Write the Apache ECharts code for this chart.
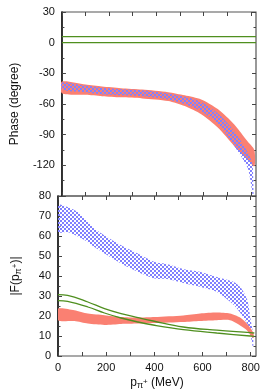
<!DOCTYPE html>
<html>
<head>
<meta charset="utf-8">
<script src="https://cdn.jsdelivr.net/npm/echarts@6/dist/echarts.min.js"></script>
<style>
html,body{margin:0;padding:0;background:#fff;}
#c{width:274px;height:392px;}
</style>
</head>
<body>
<div id="c"></div>
<script>
// ---------- data ----------
// Top panel: phase (degree)
const phaseRedX  = [0, 100, 170, 250, 340, 450, 520, 590, 660, 730, 786, 815];
const phaseRedHi = [-38, -41, -43, -44.5, -45.8, -48.4, -51.5, -55.6, -65, -80, -96.5, -105];
const phaseRedLo = [-49.5, -51, -52.3, -53.5, -54.5, -57, -62, -70, -83, -101, -114, -121];

const phaseBlueX  = [0, 100, 170, 250, 340, 450, 520, 590, 660, 730, 786, 800, 808, 812];
const phaseBlueHi = [-39, -42, -44, -45.5, -46.5, -49.7, -53, -58, -69, -86.7, -107, -114, -120, -150];
const phaseBlueLo = [-46, -48.5, -50.7, -51.5, -52.5, -55.6, -60, -67, -79, -101, -122, -137, -150, -153];

const phaseGreenX = [0, 822];
const phaseGreenA = [6, 6];
const phaseGreenB = [0, 0];

// Bottom panel: |F|
const magRedX  = [0, 68, 124, 193, 262, 332, 401, 520, 590, 659, 714, 756, 784, 805, 812];
const magRedHi = [23.7, 22.9, 21.2, 20.4, 19.5, 19.2, 19.5, 20.3, 21.2, 21.7, 21.2, 19.2, 16.2, 12.9, 11];
const magRedLo = [17.9, 17.5, 16.2, 15.5, 16.0, 16.2, 16.5, 17, 17.5, 17.9, 17.9, 15.3, 12.9, 9.5, 9];

const magBlueX  = [0, 40, 82, 110, 151, 193, 262, 332, 401, 452, 520, 592, 660, 730, 760, 786, 800, 810];
const magBlueHi = [75.5, 74.5, 72, 68.7, 63.7, 60.3, 55.4, 51.2, 47, 46, 43.5, 42, 39.5, 37, 34, 28, 18, 11];
const magBlueLo = [62, 62, 59.8, 58, 54.5, 51.2, 46.2, 42, 38.7, 38.5, 36.5, 34.5, 32, 25.5, 21, 16, 10, 4];

const magGreenX = [0, 40, 124, 193, 262, 332, 395, 520, 659, 798, 815];
const magGreenA = [30.7, 30.3, 27, 23.7, 21.2, 19.2, 17.5, 14.5, 12.9, 11.7, 11.5];
const magGreenB = [27.7, 27.3, 24.5, 21.5, 19, 17, 15.5, 13.2, 11.5, 10, 9.8];

// ticks
const xLabelTicks = [0, 200, 400, 600, 800];
const xTicks = [0, 100, 200, 300, 400, 500, 600, 700, 800];

// ---------- styling ----------
const FONT = 'Liberation Sans, Arial, sans-serif';
const RED = '#fa8072';
const GREEN = '#4f8f1f';
const pc = document.createElement('canvas');
pc.width = 4; pc.height = 4;
const pctx = pc.getContext('2d');
pctx.fillStyle = '#8080ff';
pctx.fillRect(0, 0, 2, 2);
pctx.fillRect(2, 2, 2, 2);
const BLUE_PATTERN = { image: pc, repeat: 'repeat' };

function band(xs, hi, lo, fill, gi) {
  return {
    type: 'custom', xAxisIndex: gi * 2, yAxisIndex: gi * 2, clip: true, silent: true,
    data: xs.map((x, i) => [x, lo[i], hi[i]]),
    encode: { x: 0, y: [1, 2] },
    renderItem: function (params, api) {
      if (params.dataIndex !== 0) return null;
      const top = xs.map((x, i) => api.coord([x, hi[i]]));
      const bot = xs.map((x, i) => api.coord([x, lo[i]])).reverse();
      return { type: 'polygon', shape: { points: top.concat(bot), smooth: 0.25 }, style: { fill: fill } };
    }
  };
}
function line(xs, ys, gi) {
  return {
    type: 'line', xAxisIndex: gi * 2, yAxisIndex: gi * 2, showSymbol: false, smooth: 0.4, silent: true,
    data: xs.map((x, i) => [x, ys[i]]),
    lineStyle: { color: GREEN, width: 1.3 }, z: 5
  };
}
const tickStyle = { show: true, inside: true, length: 4, lineStyle: { color: '#444', width: 1 } };
const minorStyle = { show: true, splitNumber: 2, length: 2.5, lineStyle: { color: '#444', width: 1 } };
const labelStyle = { color: '#111', fontSize: 11, fontFamily: FONT };
const nameRich = {
  sub: { fontSize: 9, fontFamily: FONT, color: '#111', lineHeight: 10, padding: [6, 0, 0, 0] },
  sup: { fontSize: 8, fontFamily: FONT, color: '#111', lineHeight: 10, padding: [0, 0, 2, 0] },
  n: { fontSize: 12, fontFamily: FONT, color: '#111', lineHeight: 14 }
};

function xAx(gi, pos, labels, name) {
  return {
    type: 'value', gridIndex: gi, position: pos, min: 0, max: 822,
    axisLine: { show: false, onZero: false },
    axisTick: Object.assign({}, tickStyle, { customValues: xTicks }),
    axisLabel: labels ? Object.assign({}, labelStyle, { margin: 6, customValues: xLabelTicks }) : { show: false },
    splitLine: { show: false },
    name: name || '', nameLocation: 'middle', nameGap: 20,
    nameTextStyle: { fontSize: 12, fontFamily: FONT, color: '#111', lineHeight: 14, rich: nameRich }
  };
}
function yAx(gi, pos, min, max, interval, labels, name, hideMin) {
  return {
    type: 'value', gridIndex: gi, position: pos, min: min, max: max, interval: interval,
    axisLine: pos === 'left' ? { show: true, onZero: false, lineStyle: { color: '#111', width: 1.5 } } : { show: false, onZero: false },
    axisTick: tickStyle, minorTick: minorStyle,
    axisLabel: labels ? Object.assign({}, labelStyle, { margin: 7, showMinLabel: !hideMin }) : { show: false },
    splitLine: { show: false }, minorSplitLine: { show: false },
    name: name || '', nameLocation: 'middle', nameRotate: 90, nameGap: 35,
    nameTextStyle: { fontSize: 12, fontFamily: FONT, color: '#111', lineHeight: 14, rich: nameRich }
  };
}

const chart = echarts.init(document.getElementById('c'), null, { renderer: 'canvas' });
chart.setOption({
  animation: false,
  backgroundColor: '#fff',
  grid: [
    { left: 58, top: 12, width: 198, height: 184, show: true, borderColor: '#555', borderWidth: 1.2 },
    { left: 58, top: 196, width: 198, height: 160, show: true, borderColor: '#555', borderWidth: 1.2 }
  ],
  xAxis: [
    xAx(0, 'bottom', false),
    xAx(0, 'top', false),
    xAx(1, 'bottom', true, 'p{sub|π}{sup|+}{n| (MeV)}'),
    xAx(1, 'top', false)
  ],
  yAxis: [
    yAx(0, 'left', -150, 30, 30, true, 'Phase (degree)', true),
    yAx(0, 'right', -150, 30, 30, false),
    yAx(1, 'left', 0, 80, 10, true, '|F(p{sub|π}{sup|+}{n|)|}'),
    yAx(1, 'right', 0, 80, 10, false)
  ],
  series: [
    band(phaseRedX, phaseRedHi, phaseRedLo, RED, 0),
    band(phaseBlueX, phaseBlueHi, phaseBlueLo, BLUE_PATTERN, 0),
    line(phaseGreenX, phaseGreenA, 0),
    line(phaseGreenX, phaseGreenB, 0),
    band(magBlueX, magBlueHi, magBlueLo, BLUE_PATTERN, 1),
    band(magRedX, magRedHi, magRedLo, RED, 1),
    line(magGreenX, magGreenA, 1),
    line(magGreenX, magGreenB, 1)
  ]
});
</script>
</body>
</html>
